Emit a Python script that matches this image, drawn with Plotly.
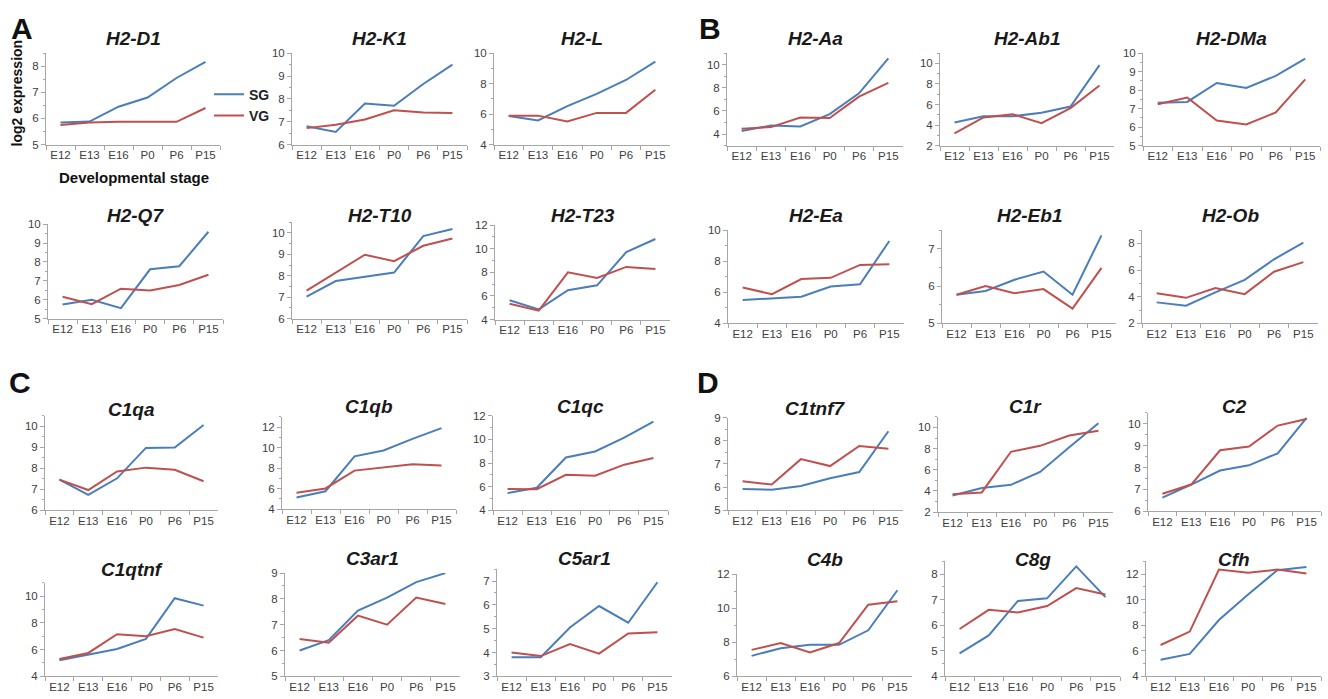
import plotly.graph_objects as go

W, H = 1328, 699

stages = ["E12", "E13", "E16", "P0", "P6", "P15"]

# ---- data (log2 expression) ----
H2_D1_SG = [5.85, 5.88, 6.45, 6.8, 7.55, 8.17]
H2_D1_VG = [5.75, 5.85, 5.87, 5.87, 5.87, 6.4]
H2_K1_SG = [6.8, 6.55, 7.8, 7.7, 8.65, 9.5]
H2_K1_VG = [6.72, 6.87, 7.1, 7.5, 7.4, 7.38]
H2_L_SG = [5.87, 5.58, 6.52, 7.33, 8.24, 9.45]
H2_L_VG = [5.9, 5.9, 5.52, 6.08, 6.08, 7.6]
H2_Aa_SG = [4.27, 4.73, 4.66, 5.72, 7.52, 10.55]
H2_Aa_VG = [4.45, 4.6, 5.43, 5.38, 7.23, 8.43]
H2_Ab1_SG = [4.25, 4.85, 4.85, 5.2, 5.8, 9.84]
H2_Ab1_VG = [3.18, 4.74, 5.06, 4.18, 5.65, 7.85]
H2_DMa_SG = [7.32, 7.36, 8.39, 8.12, 8.77, 9.7]
H2_DMa_VG = [7.24, 7.6, 6.35, 6.14, 6.79, 8.58]
H2_Q7_SG = [5.74, 6.0, 5.55, 7.61, 7.77, 9.6]
H2_Q7_VG = [6.15, 5.76, 6.58, 6.49, 6.78, 7.32]
H2_T10_SG = [7.02, 7.75, 7.95, 8.15, 9.85, 10.18]
H2_T10_VG = [7.3, 8.15, 8.98, 8.68, 9.4, 9.74]
H2_T23_SG = [5.64, 4.86, 6.48, 6.9, 9.71, 10.83]
H2_T23_VG = [5.34, 4.75, 8.0, 7.53, 8.46, 8.29]
H2_Ea_SG = [5.5, 5.62, 5.72, 6.37, 6.52, 9.3]
H2_Ea_VG = [6.31, 5.88, 6.85, 6.93, 7.76, 7.8]
H2_Eb1_SG = [5.77, 5.87, 6.17, 6.39, 5.77, 7.36]
H2_Eb1_VG = [5.77, 6.0, 5.81, 5.92, 5.4, 6.49]
H2_Ob_SG = [3.58, 3.33, 4.33, 5.27, 6.81, 8.06]
H2_Ob_VG = [4.26, 3.92, 4.65, 4.2, 5.88, 6.6]
C1qa_SG = [7.46, 6.73, 7.52, 8.97, 8.99, 10.06]
C1qa_VG = [7.46, 6.96, 7.85, 8.03, 7.93, 7.38]
C1qb_SG = [5.15, 5.75, 9.15, 9.72, 10.85, 11.9]
C1qb_VG = [5.6, 6.02, 7.76, 8.05, 8.37, 8.26]
C1qc_SG = [5.45, 5.9, 8.47, 8.98, 10.15, 11.5]
C1qc_VG = [5.8, 5.78, 7.0, 6.92, 7.86, 8.42]
C1tnf7_SG = [5.92, 5.89, 6.05, 6.38, 6.65, 8.42]
C1tnf7_VG = [6.25, 6.11, 7.21, 6.91, 7.78, 7.66]
C1r_SG = [3.58, 4.28, 4.58, 5.8, 8.13, 10.4]
C1r_VG = [3.7, 3.86, 7.7, 8.26, 9.24, 9.68]
C2_SG = [6.62, 7.22, 7.86, 8.1, 8.65, 10.27]
C2_VG = [6.8, 7.22, 8.79, 8.96, 9.92, 10.22]
C1qtnf_SG = [5.2, 5.6, 6.05, 6.8, 9.85, 9.3]
C1qtnf_VG = [5.3, 5.75, 7.15, 7.0, 7.55, 6.9]
C3ar1_SG = [6.0, 6.4, 7.55, 8.05, 8.65, 9.0]
C3ar1_VG = [6.45, 6.3, 7.35, 7.0, 8.05, 7.8]
C5ar1_SG = [3.8, 3.8, 5.05, 5.95, 5.25, 6.95]
C5ar1_VG = [4.0, 3.85, 4.35, 3.95, 4.8, 4.85]
C4b_SG = [7.2, 7.65, 7.85, 7.85, 8.7, 11.05]
C4b_VG = [7.55, 7.95, 7.4, 7.95, 10.2, 10.4]
C8g_SG = [4.9, 5.6, 6.95, 7.05, 8.3, 7.1]
C8g_VG = [5.85, 6.6, 6.5, 6.75, 7.45, 7.2]
Cfh_SG = [5.3, 5.75, 8.4, 10.4, 12.3, 12.55]
Cfh_VG = [6.45, 7.5, 12.35, 12.1, 12.35, 12.05]

genes = ["H2-D1", "H2-K1", "H2-L", "H2-Aa", "H2-Ab1", "H2-DMa",
         "H2-Q7", "H2-T10", "H2-T23", "H2-Ea", "H2-Eb1", "H2-Ob",
         "C1qa", "C1qb", "C1qc", "C1tnf7", "C1r", "C2",
         "C1qtnf", "C3ar1", "C5ar1", "C4b", "C8g", "Cfh"]
sg_series = [H2_D1_SG, H2_K1_SG, H2_L_SG, H2_Aa_SG, H2_Ab1_SG, H2_DMa_SG,
             H2_Q7_SG, H2_T10_SG, H2_T23_SG, H2_Ea_SG, H2_Eb1_SG, H2_Ob_SG,
             C1qa_SG, C1qb_SG, C1qc_SG, C1tnf7_SG, C1r_SG, C2_SG,
             C1qtnf_SG, C3ar1_SG, C5ar1_SG, C4b_SG, C8g_SG, Cfh_SG]
vg_series = [H2_D1_VG, H2_K1_VG, H2_L_VG, H2_Aa_VG, H2_Ab1_VG, H2_DMa_VG,
             H2_Q7_VG, H2_T10_VG, H2_T23_VG, H2_Ea_VG, H2_Eb1_VG, H2_Ob_VG,
             C1qa_VG, C1qb_VG, C1qc_VG, C1tnf7_VG, C1r_VG, C2_VG,
             C1qtnf_VG, C3ar1_VG, C5ar1_VG, C4b_VG, C8g_VG, Cfh_VG]

# axis ranges (min, max, major step)
y_ranges = [(5, 8.5, 1), (6, 10, 1), (4, 10, 2), (3, 11, 2), (2, 11, 2), (5, 10, 1),
            (5, 10, 1), (6, 10.5, 1), (4, 12, 2), (4, 10, 2), (5, 7.5, 1), (2, 9, 2),
            (6, 10.5, 1), (4, 13, 2), (4, 12, 2), (5, 9, 1), (2, 11, 2), (6, 10.5, 1),
            (4, 11, 2), (5, 9, 1), (3, 7.5, 1), (6, 12, 2), (4, 8.5, 1), (4, 13, 2)]

# ---- layout geometry in window pixels: (left, right, top, bottom, title_y) ----
boxes = [
    (46, 220, 48, 141, 33), (292, 467, 48, 141, 33), (494, 670, 48, 141, 33),
    (727, 903, 48, 142, 33), (940, 1114, 48, 142, 33), (1143, 1320, 48, 142, 33),
    (48, 223, 222, 318, 213), (292, 467, 220, 318, 213), (495, 670, 223, 319, 213),
    (728, 904, 228, 323, 213), (942, 1116, 228, 323, 213), (1142, 1318, 228, 323, 213),
    (45, 218, 417, 513, 411), (282, 456, 418, 512, 408), (493, 668, 417, 513, 408),
    (728, 903, 419, 513, 410), (938, 1113, 418, 515, 408), (1148, 1321, 414, 514, 408),
    (45, 218, 587, 682, 573), (285, 460, 577, 682, 562), (497, 672, 573, 682, 562),
    (737, 912, 578, 682, 563), (945, 1120, 565, 682, 563), (1146, 1321, 565, 682, 563),
]


def px(x):
    return x / W


def py(y):
    return 1 - y / H


SG_COLOR = "#4a7ebb"
VG_COLOR = "#c0504d"
AX_COLOR = "#a6a6a6"
TICK_FONT = dict(family="Arial, Liberation Sans, sans-serif", size=11.5, color="#404040")

fig = go.Figure()
layout = dict(
    width=W, height=H, margin=dict(l=0, r=0, t=0, b=0),
    paper_bgcolor="white", plot_bgcolor="white",
    font=dict(family="Arial, Liberation Sans, sans-serif", color="#222"),
    showlegend=True,
    legend=dict(x=px(209), y=py(74), xanchor="left", yanchor="top",
                bgcolor="rgba(0,0,0,0)", tracegroupgap=0,
                font=dict(size=14, color="#222", family="Arial, Liberation Sans, sans-serif"),
                itemwidth=30),
)
annotations = []

for i, g in enumerate(genes):
    n = i + 1
    xa = "x" if n == 1 else f"x{n}"
    ya = "y" if n == 1 else f"y{n}"
    l, r, t, b, ty = boxes[i]
    ymin, ymax, dt = y_ranges[i]
    fig.add_trace(go.Scatter(x=stages, y=sg_series[i], mode="lines", name="<b>SG</b>",
                             line=dict(color=SG_COLOR, width=2), xaxis=xa, yaxis=ya,
                             legendgroup="SG", showlegend=(i == 0)))
    fig.add_trace(go.Scatter(x=stages, y=vg_series[i], mode="lines", name="<b>VG</b>",
                             line=dict(color=VG_COLOR, width=2), xaxis=xa, yaxis=ya,
                             legendgroup="VG", showlegend=(i == 0)))
    xkey = "xaxis" if n == 1 else f"xaxis{n}"
    ykey = "yaxis" if n == 1 else f"yaxis{n}"
    layout[xkey] = dict(
        domain=[px(l), px(r)], anchor=ya, type="category",
        categoryorder="array", categoryarray=stages, range=[-0.5, 5.5],
        showline=True, linecolor=AX_COLOR, linewidth=1, showgrid=False, zeroline=False,
        ticks="outside", tickson="boundaries", ticklen=4, tickcolor=AX_COLOR,
        tickangle=0, tickfont=TICK_FONT, fixedrange=True,
    )
    layout[ykey] = dict(
        domain=[py(b), py(t)], anchor=xa, range=[ymin, ymax],
        tick0=0, dtick=dt, showline=True, linecolor=AX_COLOR, linewidth=1,
        showgrid=False, zeroline=False, ticks="outside", ticklen=4, tickcolor=AX_COLOR,
        minor=dict(ticks="outside", ticklen=2, dtick=dt / 2, tick0=0, tickcolor=AX_COLOR),
        tickfont=TICK_FONT, fixedrange=True,
    )
    annotations.append(dict(
        text=f"<b><i>{g}</i></b>", x=px((l + r) / 2), y=py(ty),
        xref="paper", yref="paper", xanchor="center", yanchor="middle",
        showarrow=False, font=dict(size=19, color="#1a1a1a"),
    ))

# panel letters
for letter, lx, ly in [("A", 22, 23), ("B", 710, 23), ("C", 20, 383), ("D", 708, 383)]:
    annotations.append(dict(text=f"<b>{letter}</b>", x=px(lx), y=py(ly),
                            xref="paper", yref="paper", xanchor="center", yanchor="middle",
                            showarrow=False, font=dict(size=30, color="#111")))

# axis titles for first panel
annotations.append(dict(text="<b>log2 expression</b>", x=px(17), y=py(89),
                        xref="paper", yref="paper", xanchor="center", yanchor="middle",
                        textangle=-90, showarrow=False, font=dict(size=14, color="#111")))
annotations.append(dict(text="<b>Developmental stage</b>", x=px(134), y=py(175),
                        xref="paper", yref="paper", xanchor="center", yanchor="middle",
                        showarrow=False, font=dict(size=15, color="#111")))

layout["annotations"] = annotations
fig.update_layout(**layout)
fig.write_html(
    "out.html",
    config={"displayModeBar": False, "staticPlot": True},
    post_script="document.body.style.margin='0';"
                "document.documentElement.style.overflow='hidden';"
                "document.body.style.overflow='hidden';",
)
